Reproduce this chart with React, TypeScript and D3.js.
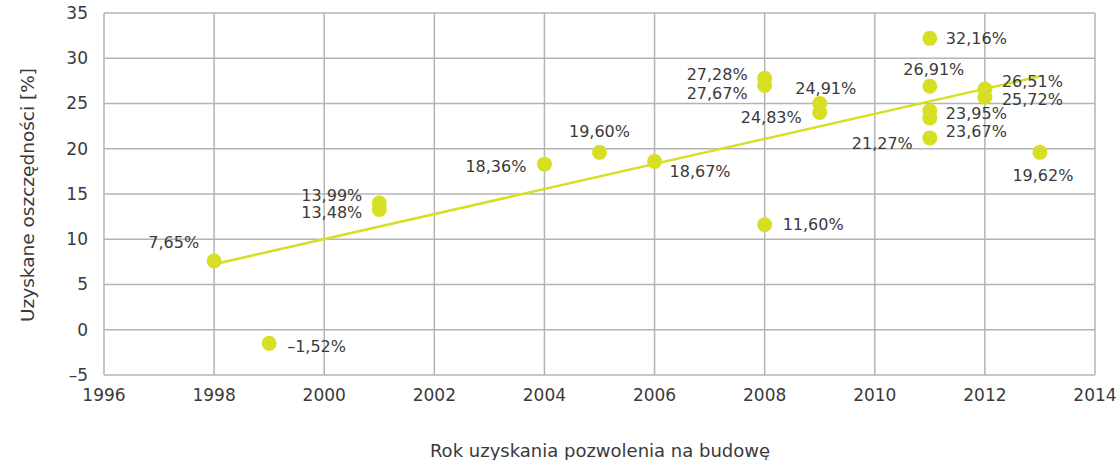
import React from "react";
import * as d3 from "d3";

const YEARS = [1998, 1999, 2001, 2001, 2004, 2005, 2006, 2008, 2008, 2008, 2009, 2009, 2011, 2011, 2011, 2011, 2011, 2012, 2012, 2013];
const VALUES = [7.6, -1.5, 14.0, 13.3, 18.3, 19.6, 18.6, 27.8, 27.0, 11.6, 25.0, 24.0, 32.2, 26.9, 24.2, 23.4, 21.2, 26.6, 25.7, 19.6];
const LABELS = ["7,65%", "–1,52%", "13,99%", "13,48%", "18,36%", "19,60%", "18,67%", "27,28%", "27,67%", "11,60%", "24,91%", "24,83%", "32,16%", "26,91%", "23,95%", "23,67%", "21,27%", "26,51%", "25,72%", "19,62%"];
// label placement: [dx, dy, anchor]
const PLACEMENT: [number, number, string][] = [
  [-15, -19, "end"], [18, 3, "start"], [-17, -8, "end"], [-17, 3, "end"], [-18, 2, "end"],
  [0, -21, "middle"], [15, 10, "start"], [-17, -4, "end"], [-17, 8, "end"], [18, 0, "start"],
  [6, -15, "middle"], [-18, 5, "end"], [16, 0, "start"], [4, -17, "middle"], [16, 3, "start"],
  [16, 13, "start"], [-17, 6, "end"], [17, -8, "start"], [17, 2, "start"], [3, 23, "middle"],
];
const X_TICKS = [1996, 1998, 2000, 2002, 2004, 2006, 2008, 2010, 2012, 2014];
const Y_TICKS = [-5, 0, 5, 10, 15, 20, 25, 30, 35];
const X_TITLE = "Rok uzyskania pozwolenia na budowę";
const Y_TITLE = "Uzyskane oszczędności [%]";

const W = 1119, H = 460;
const M = { left: 104, right: 1095, top: 13, bottom: 375 };
const COLOR = "#d6df23";
const GRID = "#b4b4b4";
const TEXT = "#3a3a3a";
const FONT = "'DejaVu Sans', sans-serif";

export default function App() {
  const x = d3.scaleLinear().domain([1996, 2014]).range([M.left, M.right]);
  const y = d3.scaleLinear().domain([-5, 35]).range([M.bottom, M.top]);

  const mx = d3.mean(YEARS)!;
  const my = d3.mean(VALUES)!;
  let sxy = 0, sxx = 0;
  YEARS.forEach((yr, i) => { sxy += (yr - mx) * (VALUES[i] - my); sxx += (yr - mx) ** 2; });
  const slope = sxy / sxx;
  const icpt = my - slope * mx;
  const x0 = d3.min(YEARS)!, x1 = d3.max(YEARS)!;
  const line = d3.line<number>().x((d) => x(d)).y((d) => y(icpt + slope * d));

  return (
    <svg width={W} height={H} style={{ position: "absolute", left: 0, top: 0, background: "#fff" }} fontFamily={FONT}>
      {Y_TICKS.map((t) => (
        <line key={"h" + t} x1={M.left} x2={M.right} y1={y(t)} y2={y(t)} stroke={GRID} strokeWidth={1.5} />
      ))}
      {X_TICKS.map((t) => (
        <line key={"v" + t} x1={x(t)} x2={x(t)} y1={M.top} y2={M.bottom} stroke={GRID} strokeWidth={1.5} />
      ))}
      {Y_TICKS.map((t) => (
        <text key={"yt" + t} x={M.left - 16} y={y(t)} dy="0.35em" textAnchor="end" fontSize={17} fill={TEXT}>
          {t < 0 ? "–" + Math.abs(t) : t}
        </text>
      ))}
      {X_TICKS.map((t) => (
        <text key={"xt" + t} x={x(t)} y={M.bottom + 26} textAnchor="middle" fontSize={17} fill={TEXT}>
          {t}
        </text>
      ))}
      <text x={600} y={457} textAnchor="middle" fontSize={18} fill={TEXT}>{X_TITLE}</text>
      <text transform={`translate(34,195) rotate(-90)`} textAnchor="middle" fontSize={18.5} fill={TEXT}>{Y_TITLE}</text>
      <path d={line([x0, x1])!} stroke={COLOR} strokeWidth={2.5} fill="none" />
      {YEARS.map((yr, i) => (
        <circle key={"c" + i} cx={x(yr)} cy={y(VALUES[i])} r={7.5} fill={COLOR} />
      ))}
      {YEARS.map((yr, i) => (
        <text key={"l" + i} x={x(yr) + PLACEMENT[i][0]} y={y(VALUES[i]) + PLACEMENT[i][1]} dy="0.35em"
          textAnchor={PLACEMENT[i][2]} fontSize={16} fill={TEXT}>
          {LABELS[i]}
        </text>
      ))}
    </svg>
  );
}
